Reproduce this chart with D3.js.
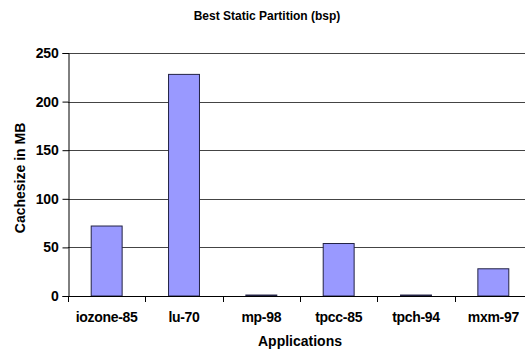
<!DOCTYPE html>
<html>
<head>
<meta charset="utf-8">
<script src="https://cdn.jsdelivr.net/npm/d3@7"></script>
<style>
  html, body { margin: 0; padding: 0; background: #fff; }
  svg { display: block; font-family: "Liberation Sans", Arial, sans-serif; }
</style>
</head>
<body>
<svg id="chart" width="525" height="351"></svg>
<script>
// Cache size chosen by the best static partition, per application
const categories = ["iozone-85", "lu-70", "mp-98", "tpcc-85", "tpch-94", "mxm-97"];
const cacheMB = [72, 228, 1, 54, 1, 28];
const yTicks = [0, 50, 100, 150, 200, 250];

const svg = d3.select("#chart");
const margin = { left: 68, right: -7, top: 53, bottom: 55 };
const W = 525, H = 351;
const x0 = margin.left, x1 = W - margin.right;
const y0 = H - margin.bottom, y1 = margin.top;

const x = d3.scaleBand().domain(categories).range([x0, x1])
  .paddingInner(0.6).paddingOuter(0.3);
const y = d3.scaleLinear().domain([0, 250]).range([y0, y1]);

// horizontal gridlines
svg.append("g").selectAll("line").data(yTicks.filter(d => d > 0)).join("line")
  .attr("x1", x0).attr("x2", x1)
  .attr("y1", d => Math.round(y(d)) + 0.5).attr("y2", d => Math.round(y(d)) + 0.5)
  .attr("stroke", "#444").attr("stroke-width", 1);

// bars
svg.append("g").selectAll("rect").data(categories).join("rect")
  .attr("x", d => x(d))
  .attr("y", (d, i) => y(cacheMB[i]))
  .attr("width", x.bandwidth())
  .attr("height", (d, i) => y0 - y(cacheMB[i]))
  .attr("fill", "#9999ff")
  .attr("stroke", "#222244").attr("stroke-width", 1);

// y axis
const yAxis = d3.axisLeft(y).tickValues(yTicks).tickSize(6).tickPadding(4);
const gy = svg.append("g").attr("transform", `translate(${x0 + 0.5},0)`).call(yAxis);
gy.selectAll("text").attr("font-size", 14).attr("font-weight", "bold")
  .attr("letter-spacing", "-0.2px")
  .attr("font-family", "Liberation Sans, Arial, sans-serif").attr("fill", "#000");
gy.selectAll("line, path").attr("stroke", "#000");

// x axis with ticks at category boundaries
const step = (x1 - x0) / categories.length;
const gx = svg.append("g");
gx.append("line").attr("x1", x0).attr("x2", x1)
  .attr("y1", y0 + 0.5).attr("y2", y0 + 0.5).attr("stroke", "#000");
gx.selectAll("line.tk").data(d3.range(categories.length + 1)).join("line")
  .attr("class", "tk")
  .attr("x1", i => Math.round(x0 + i * step) + 0.5).attr("x2", i => Math.round(x0 + i * step) + 0.5)
  .attr("y1", y0).attr("y2", y0 + 6).attr("stroke", "#000");
gx.selectAll("text").data(categories).join("text")
  .attr("x", d => x(d) + x.bandwidth() / 2)
  .attr("y", y0 + 26)
  .attr("text-anchor", "middle")
  .attr("font-size", 14).attr("font-weight", "bold")
  .attr("letter-spacing", "-0.3px")
  .text(d => d);

// titles
svg.append("text").attr("x", 267).attr("y", 20).attr("text-anchor", "middle")
  .attr("font-size", 12).attr("font-weight", "bold").text("Best Static Partition (bsp)");
svg.append("text").attr("x", 300).attr("y", 346).attr("text-anchor", "middle")
  .attr("font-size", 14).attr("font-weight", "bold").text("Applications");
svg.append("text").attr("transform", `translate(25,178) rotate(-90)`)
  .attr("text-anchor", "middle")
  .attr("font-size", 14).attr("font-weight", "bold").text("Cachesize in MB");
</script>
</body>
</html>
